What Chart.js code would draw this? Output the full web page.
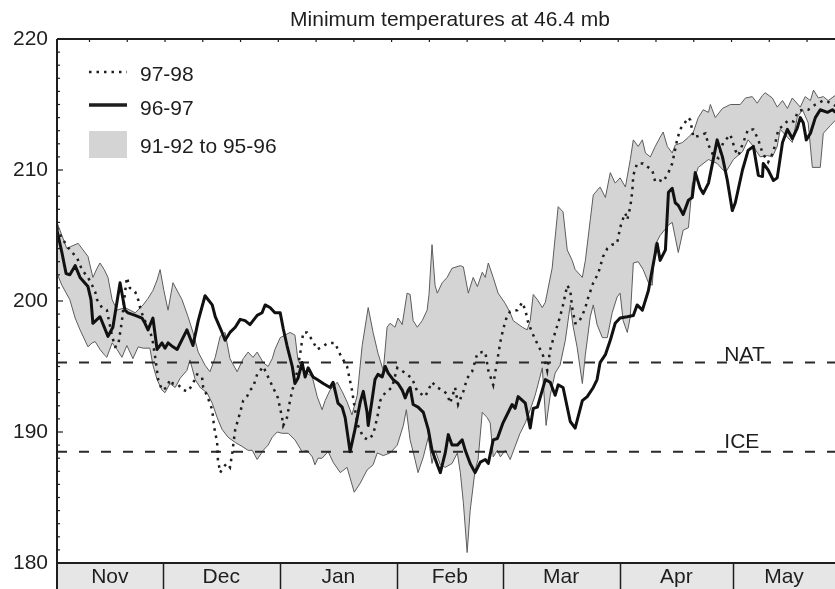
<!DOCTYPE html>
<html>
<head>
<meta charset="utf-8">
<script src="https://cdn.jsdelivr.net/npm/chart.js@4.4.1/dist/chart.umd.min.js"></script>
<style>
  html, body { margin: 0; padding: 0; background: #fff; }
  #wrap { width: 835px; height: 589px; }
</style>
</head>
<body>
<div id="wrap"><canvas id="chart" width="835" height="589"></canvas></div>
<script>
// ---------------------- Data ----------------------
// x = days since 1 Nov, y = minimum temperature (K)
const chartTitle = "Minimum temperatures at 46.4 mb";
const monthNames = ["Nov", "Dec", "Jan", "Feb", "Mar", "Apr", "May"];
const monthStartDays = [0, 30, 61, 92, 120, 151, 181];
const dayRange = [2, 208];
const yTickValues = [180, 190, 200, 210, 220];
const natTemp = 195.3;
const iceTemp = 188.5;

// 91-92 to 95-96 envelope, upper edge
const bandHigh = [
  [2.0,206.0],[3.3,205.0],[4.6,204.0],[6.0,204.2],[7.6,204.4],[8.9,203.9],[10.2,203.4],[11.5,201.8],
  [12.6,202.5],[13.4,202.9],[14.5,202.4],[15.5,201.8],[16.6,200.1],[17.9,199.3],[20.0,199.5],[22.7,199.1],
  [24.8,199.7],[26.1,200.2],[27.4,200.8],[28.5,201.6],[29.3,202.4],[30.3,200.8],[31.4,199.3],[32.7,201.4],
  [35.1,200.1],[36.7,198.8],[38.0,197.6],[39.4,196.1],[41.2,195.1],[42.5,194.6],[43.9,195.7],[45.2,197.3],
  [46.5,197.6],[47.8,195.6],[49.7,194.6],[51.3,195.6],[52.6,196.1],[53.9,195.7],[55.0,196.1],[56.6,195.3],
  [57.9,195.0],[59.0,195.6],[59.7,196.3],[61.1,197.2],[62.4,197.4],[63.7,197.6],[65.0,197.4],[65.8,195.5],
  [67.2,194.7],[69.6,194.2],[70.9,192.7],[72.2,191.7],[73.0,192.4],[74.3,193.2],[76.2,193.8],[77.5,193.1],
  [78.8,192.3],[80.1,191.3],[81.5,192.8],[82.8,196.6],[84.4,199.5],[85.7,197.6],[87.0,196.0],[88.4,194.7],
  [89.4,198.0],[90.2,198.3],[91.5,198.0],[92.3,198.7],[93.4,198.2],[94.7,200.6],[95.5,200.5],[96.3,198.5],
  [97.4,198.0],[98.7,198.5],[100.0,199.3],[100.5,200.5],[101.3,204.3],[102.1,201.2],[102.7,200.6],[104.0,201.4],
  [105.3,201.8],[106.6,202.5],[108.8,202.7],[109.6,202.6],[110.9,200.6],[112.2,201.8],[113.3,201.1],[114.6,202.2],
  [115.4,201.8],[116.2,202.9],[117.5,201.8],[118.8,200.6],[120.7,199.8],[122.0,199.1],[122.8,198.5],[125.2,198.0],
  [126.5,197.8],[127.3,198.5],[128.1,200.5],[129.2,200.1],[130.5,199.5],[131.3,199.9],[133.1,202.5],[134.7,207.2],
  [136.0,206.8],[137.1,203.9],[138.4,203.1],[139.2,202.4],[141.1,201.8],[141.9,203.1],[143.2,206.2],[144.0,208.1],
  [145.8,208.7],[147.2,207.9],[148.5,209.8],[149.8,209.0],[151.1,209.4],[152.5,208.7],[153.8,210.8],[154.6,212.3],
  [155.9,211.8],[157.0,212.3],[157.8,211.3],[159.1,211.0],[160.4,211.8],[161.7,212.5],[162.5,212.9],[163.6,211.8],
  [164.9,211.3],[165.7,211.9],[167.6,212.1],[169.2,212.5],[170.5,212.9],[171.8,214.0],[173.1,214.6],[174.5,214.4],
  [175.0,215.0],[176.3,214.0],[178.2,214.7],[180.3,215.0],[182.9,215.0],[184.3,215.5],[186.1,215.6],[187.4,215.1],
  [188.8,215.7],[189.5,215.9],[191.4,215.5],[192.7,214.8],[194.1,215.3],[195.4,214.7],[196.7,215.5],[198.8,214.8],
  [200.1,215.6],[201.5,215.3],[202.3,216.1],[203.6,215.5],[204.9,215.6],[206.2,215.3],[208.1,215.7]
];

// 91-92 to 95-96 envelope, lower edge
const bandLow = [
  [2.0,202.1],[3.3,201.2],[5.4,200.1],[6.8,198.7],[8.1,197.8],[10.2,196.5],[11.3,196.8],[12.1,196.9],
  [13.4,196.3],[14.5,195.9],[15.2,195.7],[16.6,196.8],[17.9,196.3],[19.2,195.7],[20.5,196.6],[22.1,195.6],
  [23.5,196.5],[24.8,196.4],[26.6,196.4],[27.4,195.1],[28.5,194.0],[29.8,193.2],[30.6,193.0],[31.9,193.7],
  [33.3,193.4],[34.6,194.1],[36.4,194.7],[37.2,195.5],[38.6,194.0],[39.9,193.4],[41.7,193.0],[43.1,192.2],
  [44.4,191.1],[45.7,190.2],[47.3,189.6],[49.2,189.2],[51.0,188.9],[52.6,188.6],[53.7,188.6],[55.0,187.9],
  [56.6,188.6],[57.9,189.0],[59.0,189.6],[60.3,190.0],[61.6,189.9],[63.2,189.9],[65.0,189.4],[66.9,188.5],
  [68.2,188.6],[69.6,188.1],[70.3,187.5],[71.1,188.0],[72.2,188.0],[73.8,188.5],[75.1,187.7],[77.0,186.9],
  [78.8,187.3],[79.6,186.5],[80.7,185.4],[82.3,186.1],[84.1,187.1],[85.7,187.5],[86.8,188.4],[88.4,188.2],
  [90.2,188.4],[92.1,189.0],[93.7,190.5],[94.5,191.7],[95.5,189.4],[96.8,187.9],[97.6,186.9],[99.0,188.1],
  [100.3,189.6],[101.3,187.6],[102.1,188.6],[103.5,187.5],[104.8,187.3],[106.6,187.6],[108.0,188.4],[108.8,186.9],
  [109.6,184.6],[110.6,180.8],[111.4,184.0],[112.7,187.1],[113.5,187.9],[114.6,191.5],[115.9,191.1],[116.7,190.7],
  [117.5,188.1],[118.6,188.6],[119.4,188.1],[120.7,188.6],[122.0,187.9],[123.3,188.9],[124.6,189.9],[126.0,190.7],
  [127.3,191.7],[128.6,192.8],[129.7,194.0],[130.5,194.9],[131.5,190.5],[132.6,192.8],[133.9,194.5],[135.2,195.1],
  [136.6,197.0],[137.9,199.7],[138.7,198.0],[139.7,196.5],[141.1,193.7],[141.9,195.9],[143.2,198.8],[144.0,199.7],
  [145.0,198.2],[146.4,197.2],[147.7,197.2],[149.0,199.1],[150.3,200.3],[151.1,200.6],[151.9,198.5],[153.0,197.6],
  [153.8,198.8],[154.6,202.9],[155.9,203.0],[157.2,202.4],[158.6,201.4],[159.6,201.2],[160.4,204.3],[161.7,205.0],
  [163.9,205.8],[164.9,206.0],[166.5,203.7],[167.8,205.4],[169.2,205.6],[170.2,208.9],[171.8,210.2],[174.5,210.8],
  [176.8,210.5],[179.0,209.8],[181.1,210.8],[183.5,211.4],[185.0,212.3],[186.1,211.9],[188.2,211.0],[190.1,211.1],
  [191.4,211.0],[192.7,211.8],[193.5,213.1],[195.4,212.5],[196.7,212.1],[198.0,214.0],[199.4,214.6],[200.9,213.6],
  [202.0,210.2],[204.1,210.2],[204.9,212.8],[206.8,213.4],[208.1,213.8]
];

// winter 96-97
const winter9697 = [
  [2.0,205.4],[3.3,203.7],[4.4,202.1],[5.4,202.0],[6.8,202.7],[8.1,201.8],[10.2,201.1],[11.0,200.1],
  [11.5,198.3],[13.4,198.8],[15.5,197.3],[16.8,198.0],[18.7,201.4],[20.0,199.3],[20.8,199.1],[22.7,198.9],
  [24.5,198.7],[25.3,198.3],[26.1,197.8],[27.4,198.7],[28.5,196.3],[29.8,196.8],[30.6,196.4],[31.4,196.8],
  [32.7,196.5],[33.8,196.3],[36.4,197.8],[38.0,196.6],[39.4,198.5],[41.2,200.4],[43.1,199.7],[43.9,198.8],
  [45.7,197.6],[46.5,197.0],[47.8,197.6],[49.2,198.0],[50.5,198.6],[51.8,198.5],[53.1,198.2],[55.0,198.9],
  [56.3,199.1],[57.1,199.7],[58.4,199.5],[59.7,199.1],[61.1,199.1],[61.9,197.9],[62.9,196.6],[64.3,195.0],
  [65.0,193.7],[65.8,194.1],[66.9,195.3],[67.7,194.2],[68.5,194.9],[69.8,194.2],[70.9,194.0],[72.5,193.7],
  [74.3,193.4],[75.1,193.8],[75.6,193.2],[76.4,192.2],[77.5,191.9],[78.3,191.1],[79.6,188.5],[80.9,190.2],
  [82.3,192.3],[83.1,193.1],[84.1,191.5],[84.4,190.5],[85.4,192.4],[86.2,194.0],[87.0,194.4],[88.1,194.2],
  [88.9,195.0],[89.7,194.5],[91.0,194.0],[92.3,193.7],[93.4,193.2],[94.2,192.6],[95.0,193.2],[95.5,193.4],
  [96.3,192.1],[97.6,191.9],[99.0,191.5],[100.3,190.2],[101.3,188.6],[102.7,187.5],[103.5,186.9],[104.8,188.4],
  [105.6,189.8],[106.6,189.0],[108.0,189.0],[109.3,189.4],[110.1,188.6],[111.4,187.6],[112.7,186.9],[114.1,187.7],
  [115.4,187.9],[116.2,187.6],[117.5,189.4],[118.6,189.5],[120.1,190.7],[122.5,192.1],[123.3,191.8],[124.1,192.7],
  [126.0,192.2],[127.3,190.3],[128.1,191.8],[129.2,191.9],[130.5,193.2],[131.3,194.0],[132.6,193.8],[133.9,192.8],
  [134.7,193.6],[136.0,193.4],[137.9,190.8],[139.2,190.3],[141.1,192.4],[142.4,192.7],[144.0,193.4],[145.0,194.0],
  [145.8,195.3],[147.2,195.9],[148.5,197.0],[149.8,198.3],[151.1,198.7],[153.0,198.8],[154.6,198.9],[155.6,199.7],
  [157.0,199.3],[158.6,200.8],[159.1,201.6],[160.9,204.4],[161.7,203.1],[163.1,203.9],[163.9,208.3],[164.9,208.6],
  [165.7,207.5],[166.5,207.3],[167.8,206.6],[169.2,207.7],[170.2,207.9],[171.0,209.8],[172.3,208.6],[173.1,208.2],
  [174.5,209.0],[176.8,212.3],[178.2,211.0],[179.5,209.2],[180.8,206.9],[181.6,207.5],[183.5,210.0],[185.0,211.5],
  [186.4,211.8],[187.7,209.6],[188.8,209.5],[189.0,210.5],[190.3,210.0],[191.7,209.2],[192.7,209.4],[194.1,212.1],
  [195.4,213.1],[196.7,212.4],[198.0,213.2],[198.8,214.0],[199.6,213.6],[200.4,212.3],[201.5,212.8],[202.8,214.0],
  [204.1,214.6],[206.0,214.4],[207.3,214.6],[208.1,214.4]
];

// winter 97-98
const winter9798 = [
  [2.0,205.6],[3.3,204.8],[5.4,203.9],[7.3,203.3],[8.6,202.4],[10.2,201.8],[11.3,201.2],[12.1,200.7],
  [12.6,200.1],[13.9,199.5],[15.2,199.3],[16.6,197.3],[17.4,196.5],[18.2,196.6],[19.2,198.5],[20.0,200.6],
  [20.5,201.8],[21.3,201.0],[22.7,200.7],[23.5,200.1],[24.0,199.5],[24.8,198.8],[26.1,198.0],[27.2,197.2],
  [28.0,195.7],[28.8,194.0],[29.8,193.2],[31.1,193.4],[31.9,194.0],[32.7,193.7],[34.1,193.6],[35.4,193.2],
  [36.7,193.1],[38.0,193.7],[39.1,194.4],[40.4,194.2],[40.7,193.4],[41.7,192.8],[43.1,191.7],[43.6,190.4],
  [44.4,189.2],[44.6,187.9],[45.2,186.9],[46.0,187.3],[47.0,187.6],[47.8,187.3],[48.4,188.4],[49.2,190.2],
  [49.9,190.9],[50.5,191.5],[51.3,192.4],[52.3,192.7],[53.1,193.2],[53.9,193.4],[55.0,194.4],[56.6,195.0],
  [57.9,194.2],[59.2,193.4],[60.5,192.6],[61.6,191.1],[61.9,190.5],[62.9,191.1],[63.7,192.4],[64.5,193.4],
  [65.6,194.6],[66.4,196.0],[67.2,197.6],[68.2,197.6],[69.6,197.0],[70.9,196.3],[72.2,196.5],[73.8,196.8],
  [75.6,196.8],[77.0,195.9],[78.8,195.0],[80.1,193.2],[80.9,191.7],[81.7,190.5],[83.1,189.6],[84.4,189.4],
  [85.7,189.8],[86.8,191.1],[87.6,192.4],[88.9,193.0],[90.7,193.4],[92.1,194.9],[93.7,194.6],[96.0,194.1],
  [97.4,193.1],[99.5,192.7],[101.3,193.8],[102.7,193.4],[104.0,193.2],[105.3,192.9],[106.1,192.2],[107.4,193.4],
  [108.2,192.1],[109.6,193.1],[110.6,194.1],[111.9,194.6],[113.3,196.0],[114.6,196.1],[115.4,196.1],[116.2,194.7],
  [117.5,193.6],[118.6,195.5],[119.4,196.9],[120.1,197.8],[121.2,198.9],[122.0,199.2],[123.9,199.3],[125.2,199.9],
  [126.0,199.3],[126.8,198.3],[128.1,197.4],[129.4,196.6],[130.5,196.0],[131.3,195.3],[131.8,194.7],[132.6,196.3],
  [133.9,197.6],[135.2,198.8],[136.0,199.7],[137.1,201.2],[137.9,200.8],[138.4,199.5],[139.2,198.3],[140.0,198.3],
  [141.1,198.9],[141.9,199.5],[142.7,200.3],[144.0,201.4],[145.3,202.1],[146.6,203.4],[147.7,204.0],[149.0,204.3],
  [150.3,204.4],[151.1,205.6],[151.9,206.3],[152.5,206.7],[153.0,206.2],[153.8,207.2],[154.3,208.3],[154.6,209.6],
  [155.6,210.5],[157.2,210.5],[158.6,210.2],[159.6,210.0],[160.4,209.1],[161.7,209.2],[162.5,209.1],[163.9,209.8],
  [164.9,210.5],[166.2,212.3],[167.0,213.1],[169.2,214.0],[169.7,213.8],[170.5,212.5],[171.8,212.6],[173.7,212.8],
  [174.5,211.9],[175.8,211.1],[177.1,210.9],[178.4,212.1],[180.3,212.7],[181.6,211.5],[182.4,211.1],[183.7,212.1],
  [185.0,213.1],[186.4,213.1],[187.7,212.3],[188.8,211.3],[190.3,210.6],[191.7,211.4],[193.0,213.1],[194.3,213.4],
  [195.6,213.8],[197.0,213.7],[198.3,214.5],[199.6,214.6],[200.9,214.6],[202.8,215.0],[204.9,215.3],[206.2,215.2],
  [208.1,214.9]
];

// ---------------------- Helpers ----------------------
const FONT = '"Liberation Sans", Arial, Helvetica, sans-serif';
const INK = "#1e1e1e";
const BAND_FILL = "#d4d4d4";

const toPoints = rows => rows.map(([x, y]) => ({ x, y }));
const flatLine = v => [{ x: dayRange[0], y: v }, { x: dayRange[1], y: v }];

// ---------------------- Frame, months, legend ----------------------
const decorPlugin = {
  id: "decor",
  afterDraw(chart) {
    const { ctx, chartArea: area, scales: { x, y } } = chart;
    ctx.save();

    // title
    ctx.fillStyle = INK;
    ctx.font = `21px ${FONT}`;
    ctx.textAlign = "center";
    ctx.textBaseline = "alphabetic";
    ctx.fillText(chartTitle, (area.left + area.right) / 2 + 4, 26);

    // month strip under the plot
    const stripTop = area.bottom;
    const stripBottom = chart.height;
    ctx.fillStyle = "#e6e6e6";
    ctx.fillRect(area.left, stripTop, area.right - area.left, stripBottom - stripTop);

    ctx.strokeStyle = INK;
    ctx.lineWidth = 1.5;
    monthStartDays.forEach(d => {
      if (d <= x.min || d >= x.max) return;
      const px = Math.round(x.getPixelForValue(d)) + 0.5;
      ctx.beginPath();
      ctx.moveTo(px, stripTop);
      ctx.lineTo(px, stripBottom);
      ctx.stroke();
    });

    ctx.fillStyle = INK;
    ctx.font = `21px ${FONT}`;
    monthNames.forEach((name, i) => {
      const start = Math.max(monthStartDays[i], x.min);
      const end = Math.min(monthStartDays[i + 1] ?? x.max, x.max);
      ctx.fillText(name, x.getPixelForValue((start + end) / 2), stripBottom - 6);
    });

    // top border and bottom border of plot
    ctx.lineWidth = 2;
    ctx.beginPath();
    ctx.moveTo(area.left, area.top);
    ctx.lineTo(area.right, area.top);
    ctx.moveTo(area.left, area.bottom);
    ctx.lineTo(area.right, area.bottom);
    ctx.stroke();

    // left axis, running through the month strip
    ctx.beginPath();
    ctx.moveTo(area.left, area.top);
    ctx.lineTo(area.left, stripBottom);
    ctx.stroke();

    // inner ticks on y axis
    ctx.lineWidth = 1.2;
    for (let v = y.min + 1; v < y.max; v++) {
      const py = y.getPixelForValue(v);
      const len = v % 10 === 0 ? 6 : 3;
      ctx.beginPath();
      ctx.moveTo(area.left, py);
      ctx.lineTo(area.left + len, py);
      ctx.stroke();
    }

    // small ticks every 10 days on the top edge
    for (let d = 10.6; d < x.max; d += 10) {
      const px = x.getPixelForValue(d);
      ctx.beginPath();
      ctx.moveTo(px, area.top);
      ctx.lineTo(px, area.top + 3);
      ctx.stroke();
    }

    // NAT / ICE labels
    ctx.font = `21px ${FONT}`;
    ctx.textAlign = "left";
    const labelX = x.getPixelForValue(178.7);
    ctx.fillText("NAT", labelX, y.getPixelForValue(natTemp) - 2);
    ctx.fillText("ICE", labelX, y.getPixelForValue(iceTemp) - 4);

    // legend
    const lx1 = area.left + 32;
    const lx2 = area.left + 70;
    const tx = area.left + 83;

    ctx.strokeStyle = INK;
    ctx.setLineDash([2.5, 5]);
    ctx.lineWidth = 2.5;
    ctx.beginPath();
    ctx.moveTo(lx1, area.top + 33);
    ctx.lineTo(lx2, area.top + 33);
    ctx.stroke();

    ctx.setLineDash([]);
    ctx.lineWidth = 3.5;
    ctx.beginPath();
    ctx.moveTo(lx1, area.top + 66);
    ctx.lineTo(lx2, area.top + 66);
    ctx.stroke();

    ctx.fillStyle = BAND_FILL;
    ctx.fillRect(lx1, area.top + 92, lx2 - lx1, 27);

    ctx.fillStyle = INK;
    ctx.fillText("97-98", tx, area.top + 42);
    ctx.fillText("96-97", tx, area.top + 76);
    ctx.fillText("91-92 to 95-96", tx, area.top + 114);

    ctx.restore();
  }
};

// ---------------------- Chart ----------------------
const canvas = document.getElementById("chart");

new Chart(canvas, {
  type: "line",
  data: {
    datasets: [
      {
        label: "91-92 to 95-96",
        data: toPoints(bandHigh),
        borderColor: "#5c5c5c",
        borderWidth: 1,
        backgroundColor: BAND_FILL,
        fill: "+1",
        order: 4
      },
      {
        label: "envelope low",
        data: toPoints(bandLow),
        borderColor: "#5c5c5c",
        borderWidth: 1,
        fill: false,
        order: 3
      },
      {
        label: "NAT",
        data: flatLine(natTemp),
        borderColor: "#2a2a2a",
        borderWidth: 2,
        borderDash: [10, 12],
        fill: false,
        order: 2
      },
      {
        label: "ICE",
        data: flatLine(iceTemp),
        borderColor: "#2a2a2a",
        borderWidth: 2,
        borderDash: [10, 12],
        fill: false,
        order: 2
      },
      {
        label: "97-98",
        data: toPoints(winter9798),
        borderColor: INK,
        borderWidth: 2.5,
        borderDash: [2.5, 5],
        fill: false,
        order: 1
      },
      {
        label: "96-97",
        data: toPoints(winter9697),
        borderColor: "#111",
        borderWidth: 3,
        borderJoinStyle: "round",
        fill: false,
        order: 0
      }
    ]
  },
  options: {
    responsive: false,
    animation: false,
    events: [],
    layout: { padding: { top: 39, right: 0, bottom: 26, left: 0 } },
    elements: {
      point: { radius: 0 },
      line: { tension: 0 }
    },
    plugins: {
      legend: { display: false },
      title: { display: false },
      tooltip: { enabled: false }
    },
    scales: {
      x: {
        type: "linear",
        display: false,
        min: dayRange[0],
        max: dayRange[1]
      },
      y: {
        type: "linear",
        min: 180,
        max: 220,
        afterFit(scale) { scale.width = 57; },
        afterBuildTicks(scale) { scale.ticks = yTickValues.map(v => ({ value: v })); },
        ticks: {
          font: { family: FONT, size: 21 },
          color: INK,
          padding: 9
        },
        grid: { display: false, drawTicks: false },
        border: { display: false }
      }
    }
  },
  plugins: [decorPlugin]
});
</script>
</body>
</html>
